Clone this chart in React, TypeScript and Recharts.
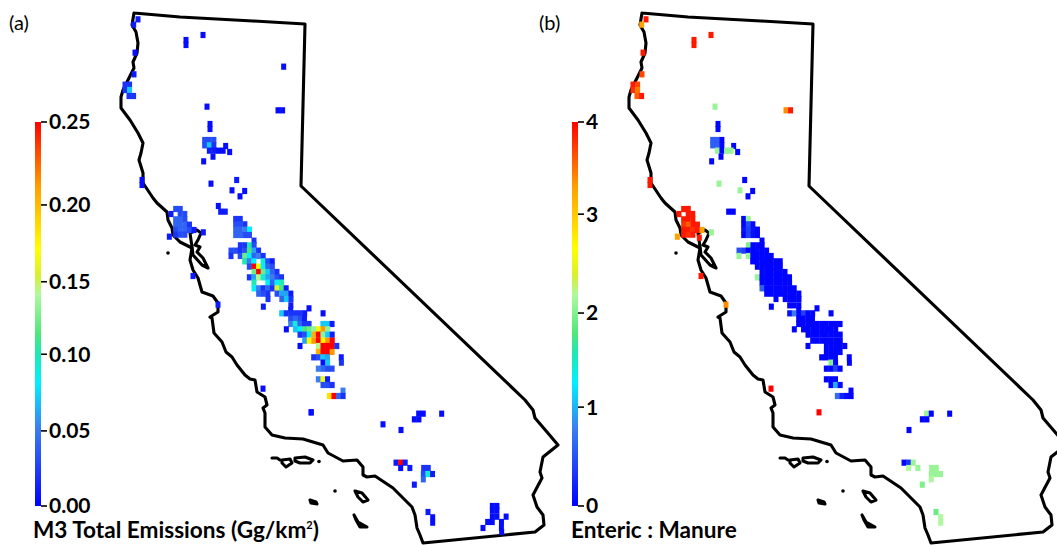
import React from "react";
import { ScatterChart, Scatter, XAxis, YAxis, BarChart, Bar } from "recharts";

type Row = [number, number, (number | null)[], (number | null)[]];
type Pt = [number, number];

// state outline and islands, in map units
const stateBorder: Pt[] = [
  [134, 13], [180, 17], [253, 21], [305, 24], [301, 186], [525, 400], [533, 410], [535, 418], [547, 432], [558, 445],
  [543, 457], [540, 472], [542, 478], [533, 495], [537, 507], [543, 515], [544, 525], [535, 532], [423, 543], [420, 535],
  [417, 528], [415, 515], [412, 507], [393, 488], [375, 476], [367, 477], [363, 475], [363, 467], [357, 460], [343, 461],
  [328, 453], [323, 445], [303, 439], [285, 438], [272, 435], [265, 427], [265, 413], [263, 408], [267, 405], [265, 397],
  [257, 392], [255, 380], [250, 379], [245, 375], [237, 365], [232, 357], [226, 352], [222, 342], [214, 333], [212, 318],
  [210, 317], [218, 312], [218, 303], [213, 296], [202, 292], [198, 278], [193, 270], [190, 260], [192, 248], [180, 242],
  [173, 235], [172, 228], [168, 220], [167, 212], [157, 203], [153, 198], [143, 183], [143, 173], [139, 160], [141, 153],
  [143, 143], [138, 133], [130, 120], [121, 108], [121, 97], [123, 90], [128, 80], [134, 68], [133, 62], [137, 53],
  [138, 43], [136, 32], [132, 25], [134, 13],
];
const bayLoop: Pt[] = [
  [192, 247], [190, 233], [197, 230], [201, 233], [198, 240], [195, 245], [200, 247], [197, 252], [203, 258], [208, 268],
  [202, 265], [193, 255], [192, 247],
];
const islands: Pt[][] = [
  [[272, 458], [277, 458], [280, 460]],
  [[282, 460], [290, 459], [292, 463], [286, 467], [282, 463], [282, 460]],
  [[295, 458], [305, 457], [313, 460], [310, 463], [300, 463], [295, 461], [295, 458]],
  [[355, 491], [362, 493], [368, 500], [363, 502], [358, 497], [355, 491]],
  [[310, 500], [316, 502], [317, 504], [311, 503], [310, 500]],
  [[354, 515], [358, 522], [367, 527], [360, 527], [356, 520], [354, 515]],
];
const isletDots: Pt[] = [[168, 253], [319, 461.5], [335, 491]];

// colour bar
const rampStops: [number, string][] = [
  [0, "#0000ff"], [0.1, "#2040f8"], [0.2, "#3b7cf0"], [0.32, "#00f0ff"], [0.4, "#20e8b0"], [0.45, "#50e878"],
  [0.55, "#b0f8a0"], [0.6, "#d8f030"], [0.67, "#ffff00"], [0.83, "#ffa000"], [1, "#ff0000"],
];
const barATicks = [0, 0.0489, 0.0988, 0.146, 0.196, 0.25];
const barALabels = ["0.00", "0.05", "0.10", "0.15", "0.20", "0.25"];
const barBTicks = [0, 1.03, 2.01, 3.04, 4];
const barBLabels = ["0", "1", "2", "3", "4"];

// rows: [y, first x, panel (a) values, panel (b) values]
const northRows: Row[] = [
  [58, 54, [0.01], [3.9]],
  [74, 41, [0.01], [3.3]],
  [105, 249, [0.005], [3.9]],
  [120, 198, [0.005], [3.9]],
  [135, 198, [0.005], [3.9]],
  [158, 45, [0.005], [3.9]],
  [200, 491, [0.005], [null]],
  [223, 42, [0.01], [3.7]],
  [254, 15, [0.02, 0.02], [3.9, 3.7]],
  [270, 15, [0.02, 0.07], [3.8, 3.5]],
  [288, 27, [0.02, 0.02], [3.6, 3.9]],
  [320, 261, [0.005], [2.1]],
  [331, 474, [0.005, 0.005], [3.4, 3.9]],
  [372, 270, [0.005], [0.03]],
  [387, 270, [0.005], [0.03]],
  [420, 254, [0.03, 0.03, 0.03], [0.6, 0.6, 0.03]],
  [436, 254, [0.03, 0.07, 0.02], [0.6, 0.6, 0.05]],
  [438, 317, [0.005], [0.03]],
  [452, 268, [0.01, 0.01, 0.005, 0.005], [2.1, 0.03, 2.1, 2.1]],
  [456, 329, [0.005], [0.03]],
  [470, 279, [0.005], [0.03]],
  [484, 251, [0.005], [0.03]],
  [540, 66, [0.005], [3.9]],
  [555, 66, [0.005], [3.9]],
  [551, 273, [0.005], [2.1]],
  [540, 350, [0.01], [0.03]],
  [571, 336, [0.005], [2.1]],
  [573, 374, [0.005], [0.03]],
  [589, 360, [0.005], [0.03]],
];
const centralRows: Row[] = [
  [48, 175, [0.005], [null]],
  [57, 47, [0.03, 0.03], [3.9, 3.9]],
  [65, 182, [0.01, 0.01], [0.03, 0.03]],
  [72, 33, [0.01, null, 0.03, 0.03], [3.9, null, 3.9, 3.9]],
  [87, 227, [0.02, 0.02], [0.03, 2.1]],
  [88, 47, [0.04, 0.04, 0.03], [3.9, 3.9, 3.9]],
  [103, 227, [0.03, 0.03, 0.02], [0.03, 0.5, 0.05]],
  [104, 47, [0.04, 0.04, 0.04, 0.02], [3.8, 3.6, 3.9, 3.9]],
  [119, 227, [0.04, 0.04, 0.05, 0.08], [0.1, 0.4, 0.1, 0.03]],
  [120, 47, [0.03, 0.04, 0.04, 0.03, 0.01], [3.9, 3.9, 3.8, 3.9, 3.3]],
  [127, 130, [0.01], [2.1]],
  [134, 47, [0.02, 0.03, 0.03], [3.9, 3.8, 3.9]],
  [135, 227, [0.04, 0.04, 0.03, 0.03], [0.03, 0.4, 0.1, 0.03]],
  [140, 28, [0.01], [3.3]],
  [143, 94, [null], [3.9]],
  [152, 282, [0.02], [0.03]],
  [166, 241, [0.02, 0.02, 0.1, 0.03], [2.0, 0.03, 0.05, 0.03]],
  [182, 213, [0.03, 0.03, 0.02, 0.03, 0.11, 0.06, 0.02], [0.5, 0.4, 0.03, 0.03, 0.05, 0.03, 0.03]],
  [198, 213, [0.02, null, 0.03, 0.12, 0.08, 0.04, 0.05, 0.02], [2.1, null, 2.1, 0.03, 0.03, 0.03, 0.03, 0.03]],
  [214, 254, [0.1, 0.05, 0.08, null, 0.09, 0.03, 0.01], [0.03, 0.03, 0.03, 0.03, 0.03, 0.03, 0.03]],
  [230, 268, [0.03, 0.25, 0.17, 0.08, 0.04, 0.03], [0.03, 0.03, 0.03, 0.03, 0.03, 0.03]],
  [246, 282, [0.12, 0.25, 0.12, 0.07, 0.04, 0.02], [0.03, 0.03, 0.03, 0.03, 0.03, 0.03]],
  [258, 99, [0.01], [3.9]],
  [262, 268, [0.02, 0.06, 0.14, 0.09, 0.06, 0.05, 0.03, 0.02], [2.1, 0.03, 0.03, 0.03, 0.03, 0.03, 0.03, 0.03]],
  [278, 282, [0.1, null, null, 0.08, 0.04, 0.08, 0.1], [0.03, 0.03, 0.03, 0.03, 0.03, 0.03, 0.03]],
  [295, 282, [0.08, 0.05, 0.02, 0.04, 0.02, 0.15, 0.11, 0.01], [0.6, 0.03, 0.03, 0.03, 0.03, 0.03, 0.03, 0.03]],
  [311, 296, [0.04, 0.03, 0.02, null, 0.03, 0.06, 0.06, 0.01], [0.03, 0.03, 0.03, 0.03, 0.03, 0.03, 0.03, 0.03]],
  [327, 324, [0.02, null, null, 0.04, 0.07, 0.02], [0.03, null, 0.03, 0.03, 0.03, 0.03]],
  [344, 174, [0.01], [3.4]],
  [350, 310, [0.01], [0.03]],
];
const southValleyRows: Row[] = [
  [46, 35, [null, null, 0.01], [0.03, 0.03, 0.03]],
  [55, 117, [0.005], [0.03]],
  [60, 62, [0.01], [0.03]],
  [70, 35, [0.07, 0.02, 0.02, 0.02, 0.02, 0.01, null, null, null, 0.005], [0.1, 0.8, 0.03, 0.4, 0.03, 0.03, null, null, null, 0.03]],
  [86, 62, [0.03, 0.04, 0.03, 0.01], [0.03, 0.03, 0.03, 0.03]],
  [102, 62, [0.05, 0.09, 0.04, 0.02, 0.02, null, null, 0.07, 0.07, 0.01], [0.03, 0.03, 0.03, 0.03, 0.03, 0.03, 0.03, 0.03, 0.03, 0.03]],
  [118, 49, [0.005, null, 0.07, 0.08, 0.11, 0.12, 0.13, 0.17, 0.21, 0.13], [0.03, null, 0.03, 0.03, 0.03, 0.03, 0.03, 0.03, 0.03, 0.03]],
  [134, 90, [0.02, 0.03, 0.08, 0.2, 0.25, 0.13, 0.07, 0.01], [0.03, 0.03, 0.03, 0.03, 0.03, 0.03, 0.03, 0.03]],
  [152, 104, [0.06, 0.17, 0.21, 0.25, 0.17, 0.21, 0.25], [0.03, 0.03, 0.03, 0.03, 0.03, 0.03, 0.03]],
  [168, 90, [0.005, null, null, null, 0.14, 0.25, 0.25, 0.25, 0.02], [0.03, null, null, null, 0.03, 0.03, 0.03, 0.03, 0.03]],
  [186, 145, [0.2, 0.25, 0.25, 0.21], [0.03, 0.03, 0.03, 0.03]],
  [202, 131, [0.02, 0.03, 0.07, 0.06, null, null, 0.01], [0.03, 0.03, 0.03, 0.03, null, null, 0.03]],
  [218, 159, [0.005, 0.07, null, null, 0.02], [2.0, 0.03, null, null, 0.03]],
  [236, 145, [0.05, 0.04, 0.03, 0.03], [0.03, 0.03, 0.4, 0.03]],
  [268, 145, [0.05, 0.16, 0.01], [0.03, 0.03, 0.03]],
  [285, 159, [0.03, 0.03, 0.02], [0.03, 1.0, 0.05]],
  [296, -21, [0.005], [4]],
  [302, 219, [0.05], [0.05]],
  [318, 178, [0.18, 0.25, 0.04, 0.02], [0.7, 0.2, 0.05, 0.03]],
  [367, 123, [0.005], [4]],
];
const southRows: Row[] = [
  [37, 154, [0.005], [null]],
  [41, 476, [0.005, 0.005, null, null, null, 0.005], [2.1, 0.03, null, null, null, 0.03]],
  [58, 463, [0.005, 0.005], [0.03, 0.03]],
  [73, 369, [0.005], [null]],
  [90, 423, [0.005], [0.03]],
  [188, 408, [0.01, 0.25, 0.01], [0.03, 0.3, 2.1]],
  [204, 422, [0.005, null, 0.01, null, null, 0.02, 0.02], [2.2, null, 2.1, null, null, 2.1, 2.1]],
  [222, 490, [0.03, 0.09, 0.01], [2.1, 2.1, 2.1]],
  [238, 490, [0.04], [2.2]],
  [254, 463, [0.01], [2.0]],
  [336, 504, [0.01], [1.9]],
  [352, 518, [0.005], [2.2]],
  [368, 518, [0.005], [2.2]],
  [318, 697, [0.005, 0.005], [null, null]],
  [332, 697, [0.005, 0.005], [null, null]],
  [350, 697, [0.005, 0.005, null, 0.005], [null, null, null, null]],
  [366, 683, [0.005, 0.005, null, 0.005], [null, null, null, null]],
  [384, 669, [0.005, null, null, null, 0.005], [null, null, null, null, null]],
  [396, 725, [0.005], [null]],
];

const hexToRgb = (h: string) => [1, 3, 5].map((i) => parseInt(h.slice(i, i + 2), 16));
const colorAt = (t: number) => {
  const u = Math.max(0, Math.min(1, t));
  for (let i = 1; i < rampStops.length; i++) {
    if (u <= rampStops[i][0]) {
      const [a, ca] = rampStops[i - 1];
      const [b, cb] = rampStops[i];
      const f = (u - a) / (b - a);
      const A = hexToRgb(ca);
      const B = hexToRgb(cb);
      return `rgb(${A.map((c, k) => Math.round(c + (B[k] - c) * f)).join(",")})`;
    }
  }
  return "#ff0000";
};

const expand = (ox: number, oy: number, rows: Row[], idx: 2 | 3, max: number) =>
  rows.flatMap((r) =>
    (r[idx] as (number | null)[]).flatMap((v, i) =>
      v == null ? [] : [{ x: ox + (r[1] + i * 13.8) / 3, y: oy + r[0] / 3, v, fill: colorAt(v / max) }]
    )
  );
const allCells = (idx: 2 | 3, max: number) => [
  ...expand(120, 0, northRows, idx, max),
  ...expand(160, 190, centralRows, idx, max),
  ...expand(270, 290, southValleyRows, idx, max),
  ...expand(260, 400, southRows, idx, max),
];
const toPts = (l: Pt[]) => l.map(([x, y]) => ({ x, y }));

const CellMark = (p: any) => (
  <rect x={p.cx - 2.5} y={p.cy - 3.1} width={5} height={6.2} fill={p.payload.fill} stroke="none" />
);
const NoMark = () => <g />;
const DotMark = (p: any) => <circle cx={p.cx} cy={p.cy} r={1.8} fill="#000" />;
const lineStyle = { stroke: "#000", strokeWidth: 3.1, fill: "none", strokeLinejoin: "round", strokeLinecap: "round" } as any;

const MapPanel = ({ cells, left }: { cells: any[]; left: number }) => (
  <div style={{ position: "absolute", left, top: 0 }}>
    <ScatterChart width={600} height={545} margin={{ top: 0, right: 0, bottom: 0, left: 0 }}>
      <XAxis type="number" dataKey="x" domain={[0, 600]} hide />
      <YAxis type="number" dataKey="y" domain={[0, 545]} reversed hide />
      <Scatter data={toPts(stateBorder)} line={lineStyle} shape={NoMark} isAnimationActive={false} />
      <Scatter data={toPts(bayLoop)} line={lineStyle} shape={NoMark} isAnimationActive={false} />
      {islands.map((isl, i) => (
        <Scatter key={i} data={toPts(isl)} line={lineStyle} shape={NoMark} isAnimationActive={false} />
      ))}
      <Scatter data={toPts(isletDots)} shape={DotMark} isAnimationActive={false} />
      <Scatter data={cells} shape={CellMark} isAnimationActive={false} />
    </ScatterChart>
  </div>
);

const ColorBar = ({ left, max, ticks, labels, id }: { left: number; max: number; ticks: number[]; labels: string[]; id: string }) => (
  <div style={{ position: "absolute", left, top: 90 }}>
    <BarChart
      width={70}
      height={440}
      data={[{ name: "scale", v: max }]}
      margin={{ top: 32, right: 0, bottom: 24, left: 0 }}
      barCategoryGap={0}
    >
      <defs>
        <linearGradient id={id} x1="0" y1="1" x2="0" y2="0">
          {rampStops.map(([o, c]) => (
            <stop key={o} offset={o} stopColor={c} />
          ))}
        </linearGradient>
      </defs>
      <XAxis dataKey="name" hide />
      <YAxis
        orientation="right"
        width={64}
        domain={[0, max]}
        ticks={ticks}
        interval={0}
        axisLine={false}
        tickSize={6}
        tickMargin={2}
        tickLine={{ stroke: "#000", strokeWidth: 1.6 }}
        tickFormatter={(v: number) => labels[ticks.indexOf(v)]}
        tick={{ fill: "#000", fontSize: 21, fontFamily: "Lato", fontWeight: 700 }}
      />
      <Bar dataKey="v" fill={`url(#${id})`} isAnimationActive={false} />
    </BarChart>
  </div>
);

const textBase: React.CSSProperties = { position: "absolute", fontFamily: "Lato", color: "#000", whiteSpace: "nowrap", lineHeight: 1 };

export default function App() {
  return (
    <div style={{ position: "absolute", left: 0, top: 0, width: 1057, height: 545, overflow: "hidden", background: "#fff" }}>
      <MapPanel cells={allCells(2, 0.25)} left={0} />
      <MapPanel cells={allCells(3, 4)} left={508} />
      <ColorBar left={35} max={0.25} ticks={barATicks} labels={barALabels} id="rampA" />
      <ColorBar left={572} max={4} ticks={barBTicks} labels={barBLabels} id="rampB" />
      <div style={{ ...textBase, left: 9, top: 12, fontSize: 20 }}>(a)</div>
      <div style={{ ...textBase, left: 539, top: 12, fontSize: 20 }}>(b)</div>
      <div style={{ ...textBase, left: 33, top: 519, fontSize: 22.6, fontWeight: 700 }}>
        M3 Total Emissions (Gg/km<sup style={{ fontSize: 11, lineHeight: 0 }}>2</sup>)
      </div>
      <div style={{ ...textBase, left: 571, top: 519, fontSize: 22.6, fontWeight: 700 }}>Enteric : Manure</div>
    </div>
  );
}
